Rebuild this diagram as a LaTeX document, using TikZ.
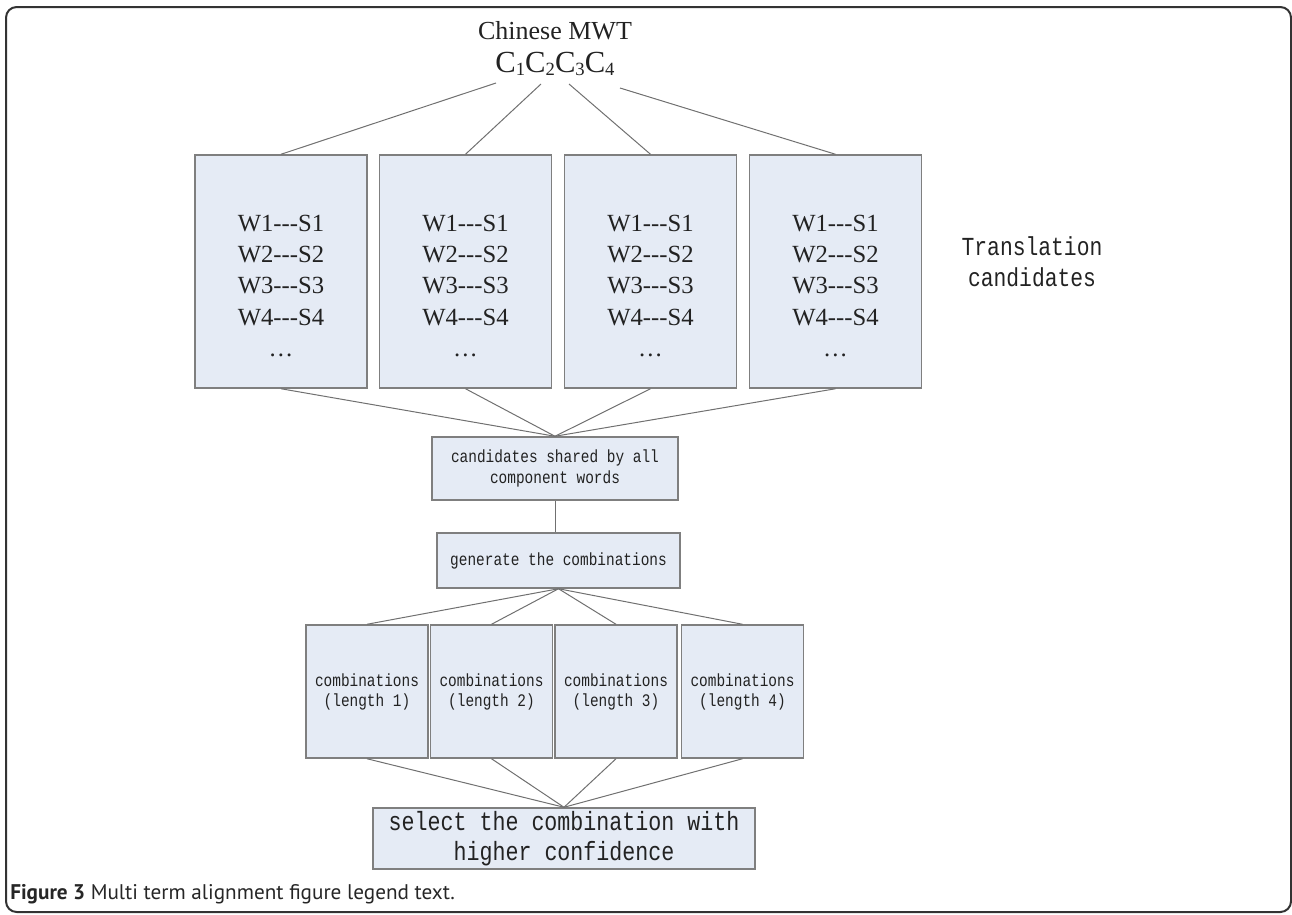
\documentclass[tikz,border=0pt]{standalone}
\usepackage{fontspec}
\setmainfont{Liberation Serif}
\newfontfamily\monofont[FakeStretch=0.82]{Liberation Mono}
\newfontfamily\capfont{PT Sans}
\definecolor{boxfill}{HTML}{E5EBF5}
\definecolor{boxdraw}{HTML}{7F7F7F}
\definecolor{linec}{HTML}{707070}
\definecolor{txt}{HTML}{222222}
\newcommand{\wrow}[1]{W#1-{}-{}-S#1}
\newcommand{\subd}[1]{\raisebox{-2pt}{\fontsize{14}{14}\selectfont #1}}
\begin{document}
\begin{tikzpicture}[x=0.75pt,y=-0.75pt,
  boxbase/.style={draw=boxdraw, fill=boxfill, line width=1.1pt, inner sep=0pt, text=txt, align=center},
  wbox/.style={boxbase, minimum width=129pt, minimum height=174.75pt},
  wtext/.style={inner sep=0pt, align=center, text=txt, font=\fontsize{18.5}{23.6}\selectfont},
  combobox/.style={boxbase, minimum width=91.5pt, minimum height=99.75pt, font=\monofont\fontsize{13.2}{15}\selectfont},
  conn/.style={draw=linec, line width=0.75pt}
]
\useasboundingbox (0,0) rectangle (1292,914);
\draw[line width=1.5pt, draw=black!80, rounded corners=8pt] (6,7) rectangle (1291,912);

% title
\node[inner sep=0pt, anchor=base, text=txt, font=\fontsize{19.5}{22}\selectfont] (title) at (555,39.5) {Chinese MWT};
\node[inner sep=0pt, anchor=base, text=txt, font=\fontsize{23}{25}\selectfont] (mwt) at (555,72.5)
  {C\subd{1}C\subd{2}C\subd{3}C\subd{4}};
\coordinate (c1) at (496,83);
\coordinate (c2) at (541,84);
\coordinate (c3) at (569,84);
\coordinate (c4) at (620,88);

% candidate boxes
\node[wbox] (b1) at (281,271.5) {};
\node[wbox] (b2) at (465.5,271.5) {};
\node[wbox] (b3) at (650.5,271.5) {};
\node[wbox] (b4) at (835.5,271.5) {};
\foreach \i/\x in {1/281,2/465.5,3/650.5,4/835.5}{
  \node[wtext] (t\i) at (\x,286) {\wrow{1}\\\wrow{2}\\\wrow{3}\\\wrow{4}\\…};
}
\node[inner sep=0pt, align=center, text=txt, font=\monofont\fontsize{19.5}{23}\selectfont] (trans) at (1032,262) {Translation\\candidates};

% middle
\node[boxbase, minimum width=184.5pt, minimum height=47.25pt, font=\monofont\fontsize{13.2}{16}\selectfont] (s) at (555,468.5) {candidates shared by all\\component words};
\node[boxbase, minimum width=182.25pt, minimum height=41.25pt, font=\monofont\fontsize{13.2}{16}\selectfont] (g) at (558.5,560.5) {generate the combinations};

\node[combobox] (k1) at (367,691.5) {combinations\\(length 1)};
\node[combobox] (k2) at (491.5,691.5) {combinations\\(length 2)};
\node[combobox] (k3) at (616,691.5) {combinations\\(length 3)};
\node[combobox] (k4) at (742.5,691.5) {combinations\\(length 4)};

\node[boxbase, minimum width=286.5pt, minimum height=45.75pt, font=\monofont\fontsize{19.8}{23}\selectfont] (sel) at (564,838.5) {select the combination with\\higher confidence};

% connectors
\draw[conn] (c1) -- (b1.north);
\draw[conn] (c2) -- (b2.north);
\draw[conn] (c3) -- (b3.north);
\draw[conn] (c4) -- (b4.north);
\foreach \i in {1,2,3,4}{ \draw[conn] (b\i.south) -- (s.north); }
\draw[conn] (s.south) -- (s.south |- g.north);
\foreach \i in {1,2,3,4}{ \draw[conn] (g.south) -- (k\i.north); }
\foreach \i in {1,2,3,4}{ \draw[conn] (k\i.south) -- (sel.north); }

% caption
\node[inner sep=0pt, anchor=base west, text=black!85, font=\capfont\fontsize{15.9}{18}\selectfont] (cap) at (10,899) {\textbf{Figure 3} Multi term alignment figure legend text.};
\end{tikzpicture}
\end{document}
